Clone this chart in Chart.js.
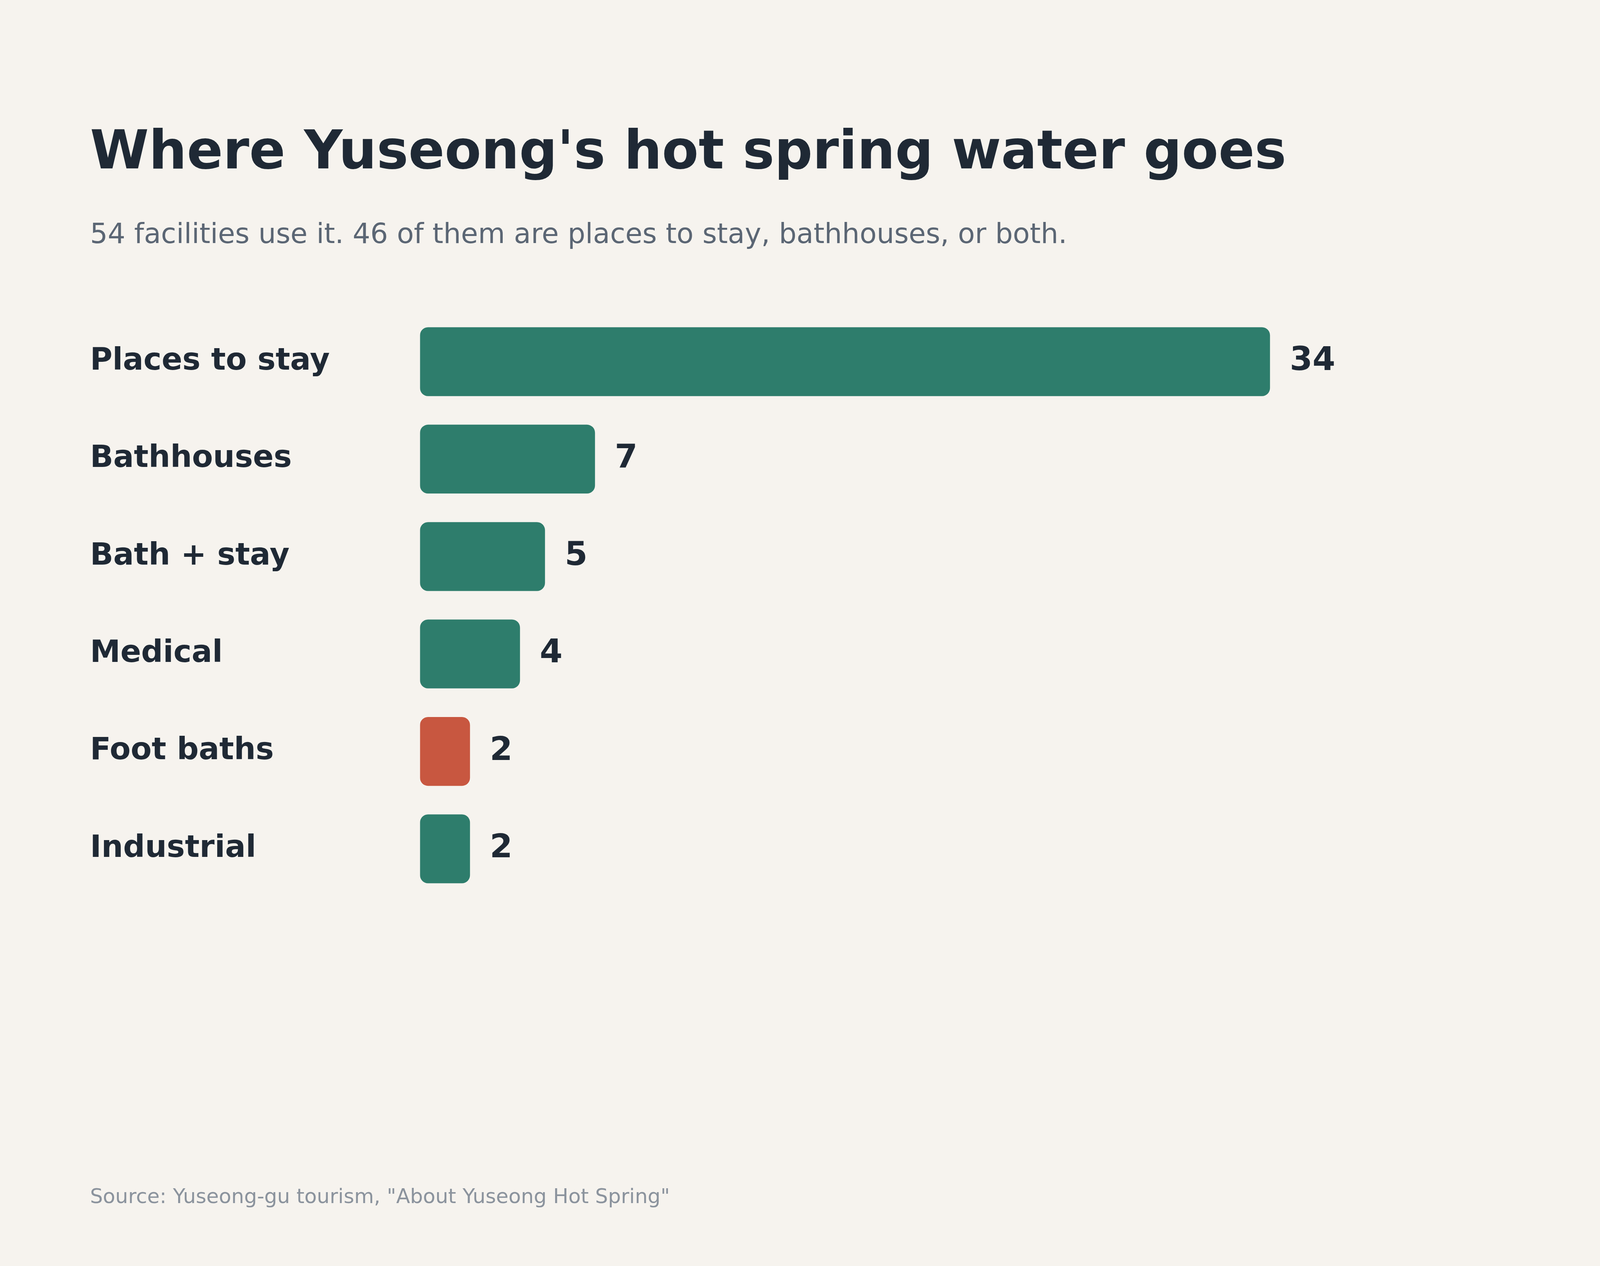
<!DOCTYPE html>
<html>
<head>
<meta charset="utf-8">
<title>Where Yuseong's hot spring water goes</title>
<script src="https://cdn.jsdelivr.net/npm/chart.js@4/dist/chart.umd.min.js"></script>
<style>
  html, body { margin: 0; padding: 0; background: #f6f3ee; overflow: hidden; }
  body { position: relative; width: 100vw; height: 100vh; font-family: 'DejaVu Sans', sans-serif; }
  .txt { position: absolute; margin: 0; line-height: 1; white-space: nowrap; }
  .title { font-weight: bold; color: #1f2935; }
  .subtitle { color: #5b6674; }
  .source { color: #8b939d; }
  #wrap { position: absolute; left: 0; }
</style>
</head>
<body>
<h1 class="txt title" id="title">Where Yuseong's hot spring water goes</h1>
<p class="txt subtitle" id="subtitle">54 facilities use it. 46 of them are places to stay, bathhouses, or both.</p>
<div id="wrap"><canvas id="chart"></canvas></div>
<p class="txt source" id="source">Source: Yuseong-gu tourism, "About Yuseong Hot Spring"</p>

<script>
const categories = ['Places to stay', 'Bathhouses', 'Bath + stay', 'Medical', 'Foot baths', 'Industrial'];
const counts = [34, 7, 5, 4, 2, 2];
const highlighted = 'Foot baths';

const green = '#2e7d6c';
const red = '#c85740';
const ink = '#1f2935';

// layout was measured on a 5760x3240 frame; scale it to whatever window we get
const sx = window.innerWidth / 5760;
const sy = window.innerHeight / 3240;
const fs = Math.min(sx, sy);
const ASC = 0.846; // DejaVu Sans baseline offset for line-height 1

function placeText(id, size, baseline) {
  const el = document.getElementById(id);
  el.style.fontSize = (size * fs) + 'px';
  el.style.left = (324 * sx) + 'px';
  el.style.top = (baseline * sy - ASC * size * fs) + 'px';
}
placeText('title', 192, 432);
placeText('subtitle', 100, 622);
placeText('source', 73, 3080);

const wrap = document.getElementById('wrap');
wrap.style.top = (751 * sy) + 'px';
wrap.style.width = window.innerWidth + 'px';
wrap.style.height = (1596 * sy) + 'px';

// draws the number just past the end of each bar
const valueLabels = {
  id: 'valueLabels',
  afterDatasetsDraw(chart) {
    const ctx = chart.ctx;
    const meta = chart.getDatasetMeta(0);
    ctx.save();
    ctx.font = `bold ${118 * fs}px "DejaVu Sans"`;
    ctx.fillStyle = ink;
    ctx.textAlign = 'left';
    ctx.textBaseline = 'middle';
    meta.data.forEach((bar, i) => {
      ctx.fillText(String(counts[i]), bar.x + 71 * sx, bar.y);
    });
    ctx.restore();
  }
};

new Chart(document.getElementById('chart'), {
  type: 'bar',
  data: {
    labels: categories,
    datasets: [{
      data: counts,
      backgroundColor: categories.map(c => c === highlighted ? red : green),
      borderRadius: 29 * fs,
      borderSkipped: false,
      categoryPercentage: 1,
      barPercentage: 0.707
    }]
  },
  options: {
    indexAxis: 'y',
    responsive: true,
    maintainAspectRatio: false,
    devicePixelRatio: 1,
    animation: false,
    layout: { padding: { left: 324 * sx, right: 648 * sx, top: 0, bottom: 0 } },
    scales: {
      x: { display: false, min: 0, max: 40 },
      y: {
        grid: { display: false },
        border: { display: false },
        ticks: {
          crossAlign: 'far',
          color: ink,
          font: { family: 'DejaVu Sans', size: 110 * fs, weight: 'bold' }
        },
        afterFit: scale => { scale.width = 1188 * sx; }
      }
    },
    plugins: {
      legend: { display: false },
      tooltip: { enabled: false }
    }
  },
  plugins: [valueLabels]
});
</script>
</body>
</html>
